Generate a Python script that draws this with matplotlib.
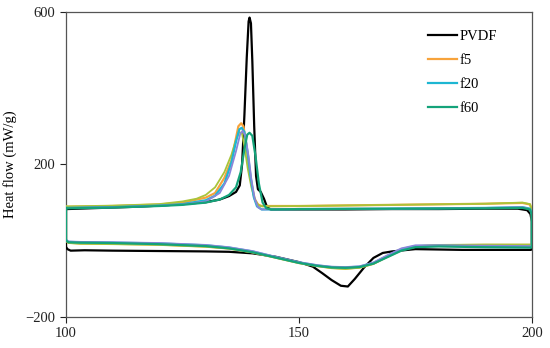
import matplotlib
matplotlib.use("Agg")
import matplotlib.pyplot as plt

# DSC loops: each curve goes along the top (heating) branch 100 -> 200,
# down at 200, back along the bottom branch 200 -> 100 and up again.
pvdf_t = [100.0, 100.2, 105, 110, 115, 120, 125, 130, 133, 135, 136.5, 137.3, 137.8, 138.3, 138.8, 139.2, 139.4,
          139.7, 140.0, 140.4, 140.8, 141.2, 141.8, 142.5, 143.2, 144, 150, 160, 170, 180, 190, 197, 199, 199.7,
          200.0, 200.0, 199.8, 195, 185, 175, 170, 168, 166, 164, 162, 160.5, 159, 157, 155, 153, 150, 145, 140,
          135, 130, 120, 110, 104, 101, 100.3, 100.0, 100.0]
pvdf_hf = [84, 83, 85, 87, 89, 92, 96, 101, 108, 117, 128, 145, 200, 330, 480, 575, 585,
           570, 470, 300, 170, 135, 128, 110, 87, 82, 82, 82, 83, 83, 84, 84, 80, 70,
           50, -20, -24, -24, -24, -22, -28, -32, -45, -70, -100, -120, -118, -103, -85, -68, -56, -42, -33,
           -29, -28, -27, -26, -25, -26, -22, -16, 84]

f5_t = [100.0, 100.2, 110, 120, 125, 130, 132, 134, 135.5, 136.5, 137.0, 137.6, 138.1, 138.6, 139.2, 139.8,
        140.5, 141.2, 142, 150, 170, 190, 198, 199.6, 200.0, 200.0, 199.7, 190, 180, 175, 172, 169, 166, 163,
        160, 157, 154, 150, 145, 140, 135, 130, 120, 110, 103, 100.5, 100.0, 100.0]
f5_hf = [89, 89, 91, 95, 100, 113, 125, 165, 210, 270, 300, 308, 300, 260, 200, 150,
         110, 95, 91, 91, 94, 97, 99, 95, 80, -11, -11, -11, -12, -15, -25, -42, -60, -70,
         -73, -71, -66, -58, -44, -30, -20, -15, -10, -8, -7, -5, 0, 89]

f20_t = [100.0, 100.2, 110, 120, 125, 130, 132, 134, 135.5, 136.5, 137.2, 137.7, 138.3, 139.0, 139.6, 140.3,
         141, 142, 150, 170, 190, 198, 199.6, 200.0, 200.0, 199.7, 190, 180, 175, 172, 169, 166, 163, 160,
         157, 154, 150, 145, 140, 135, 130, 120, 110, 103, 100.5, 100.0, 100.0]
f20_hf = [86, 86, 88, 92, 96, 106, 118, 150, 205, 260, 292, 296, 285, 230, 170, 115,
          90, 82, 83, 84, 86, 88, 84, 70, -16, -16, -15, -13, -14, -22, -40, -58, -68, -70,
          -69, -65, -57, -43, -28, -18, -12, -7, -5, -4, -3, 2, 86]

f60_t = [100.0, 100.2, 110, 120, 125, 130, 133, 135, 136.5, 137.5, 138.3, 138.9, 139.4, 140.0, 140.7, 141.4,
         142.2, 143, 144, 150, 170, 190, 198, 199.6, 200.0, 200.0, 199.7, 190, 180, 175, 172, 169, 166, 163,
         160, 157, 154, 150, 145, 140, 135, 130, 120, 110, 103, 100.5, 100.0, 100.0]
f60_hf = [85, 85, 87, 91, 94, 100, 108, 120, 140, 180, 240, 278, 283, 275, 220, 150,
          100, 85, 82, 83, 84, 85, 86, 82, 68, -18, -18, -17, -15, -17, -26, -43, -60, -69,
          -71, -70, -66, -58, -44, -30, -20, -14, -9, -6, -5, -4, 1, 85]

# two extra traces visible in the figure but absent from the legend
yg_t = [100.0, 100.2, 110, 120, 125, 128, 130, 132, 134, 135.5, 136.5, 137.2, 137.8, 138.4, 139.0, 139.8,
        140.6, 141.4, 142.2, 150, 170, 190, 198, 199.6, 200.0, 200.0, 199.7, 190, 180, 175, 172, 169, 166,
        163, 160, 157, 154, 150, 145, 140, 135, 130, 120, 110, 103, 100.5, 100.0, 100.0]
yg_hf = [90, 90, 92, 96, 103, 110, 120, 140, 180, 225, 265, 285, 280, 240, 190, 140,
         105, 92, 90, 91, 94, 97, 100, 96, 82, -10, -10, -10, -11, -14, -24, -42, -61, -71,
         -74, -72, -67, -59, -45, -31, -21, -16, -11, -9, -8, -6, 0, 90]

pu_t = [100.0, 100.2, 110, 120, 125, 130, 133, 135, 136.5, 137.4, 137.9, 138.5, 139.2, 139.8, 140.5, 141.2,
        142, 150, 170, 190, 198, 199.6, 200.0, 200.0, 199.7, 190, 180, 175, 172, 169, 166, 163, 160, 157,
        154, 150, 145, 140, 135, 130, 120, 110, 103, 100.5, 100.0, 100.0]
pu_hf = [86, 86, 88, 92, 95, 103, 125, 170, 235, 280, 288, 275, 220, 160, 110, 88,
         82, 83, 84, 86, 88, 83, 70, -14, -14, -13, -12, -12, -20, -38, -57, -67, -69,
         -68, -64, -56, -42, -27, -17, -11, -6, -4, -3, -2, 3, 86]

plt.rcParams["font.family"] = ["Liberation Serif", "DejaVu Serif"]

fig = plt.figure(figsize=(5.5, 3.48), dpi=100)
ax = fig.add_axes([0.12, 0.089, 0.847, 0.877])

ax.plot(pvdf_t, pvdf_hf, color="black", lw=1.6, label="PVDF", zorder=3)
ax.plot(f5_t, f5_hf, color="#f7a33b", lw=1.6, label="f5", zorder=3)
ax.plot(yg_t, yg_hf, color="#a9c43a", lw=1.3, label="_nolegend_", zorder=3)
ax.plot(f20_t, f20_hf, color="#1db6d2", lw=1.6, label="f20", zorder=3)
ax.plot(pu_t, pu_hf, color="#8a86d8", lw=1.3, label="_nolegend_", zorder=3)
ax.plot(f60_t, f60_hf, color="#14a37a", lw=1.6, label="f60", zorder=3)

ax.set_xlim(100, 200)
ax.set_ylim(-200, 600)
ax.set_xticks([100, 150, 200])
ax.set_yticks([-200, 200, 600])
ax.tick_params(direction="out", length=4, width=0.8, labelsize=10.5, colors="#222222")
for s in ax.spines.values():
    s.set_color("#555555")
    s.set_linewidth(0.9)
ax.set_ylabel("Heat flow (mW/g)", fontsize=10.5, labelpad=6)

ax.legend(loc="upper right", bbox_to_anchor=(0.953, 0.985), frameon=False, fontsize=10.5,
          handlelength=2.0, handletextpad=0.15, labelspacing=0.75)

fig.savefig("out.png", dpi=100)
